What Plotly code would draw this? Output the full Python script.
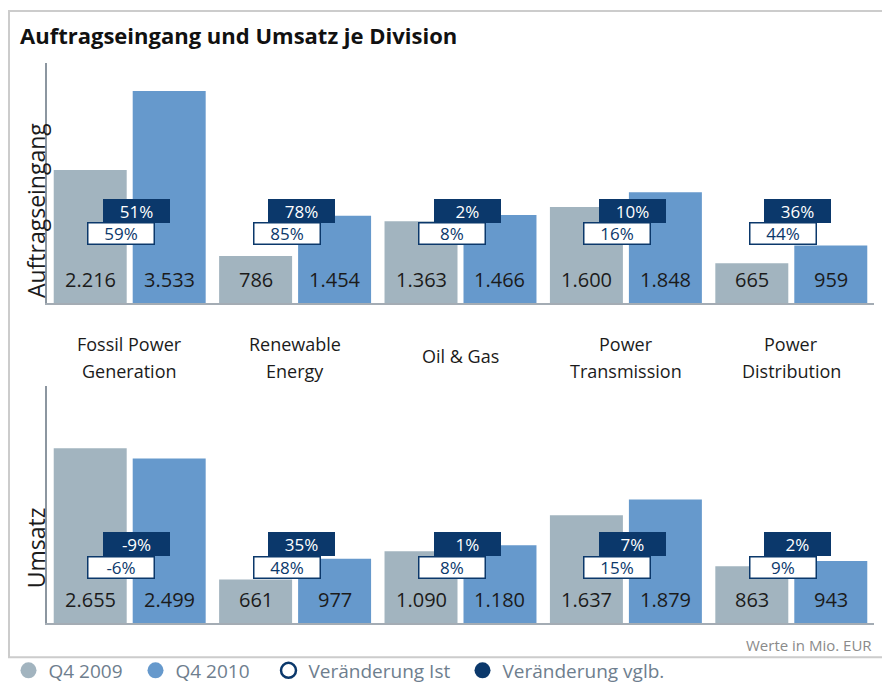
import plotly.graph_objects as go
from plotly.subplots import make_subplots

# ---------------- data ----------------
categories = ["Fossil Power<br>Generation", "Renewable<br>Energy", "Oil & Gas",
              "Power<br>Transmission", "Power<br>Distribution"]
auftrag_q4_2009 = [2216, 786, 1363, 1600, 665]
auftrag_q4_2010 = [3533, 1454, 1466, 1848, 959]
auftrag_chg_ist = ["59%", "85%", "8%", "16%", "44%"]
auftrag_chg_vglb = ["51%", "78%", "2%", "10%", "36%"]

umsatz_q4_2009 = [2655, 661, 1090, 1637, 863]
umsatz_q4_2010 = [2499, 977, 1180, 1879, 943]
umsatz_chg_ist = ["-6%", "48%", "8%", "15%", "9%"]
umsatz_chg_vglb = ["-9%", "35%", "1%", "7%", "2%"]

series_names = ["Q4 2009", "Q4 2010", "Veränderung Ist", "Veränderung vglb."]
panel_titles = ["Auftragseingang", "Umsatz"]
title_text = "Auftragseingang und Umsatz je Division"
note_text = "Werte in Mio. EUR"

# ---------------- styling ----------------
OFF = 8                      # page body margin of the html document
W, H = 890 - OFF, 684
PLOT_LEFT, PLOT_RIGHT = 47, 874          # screen px
TOP_TOP, TOP_BASE = 63, 303
BOT_TOP, BOT_BASE = 386, 622.7
L = PLOT_LEFT - OFF
R = W - (PLOT_RIGHT - OFF)
T = TOP_TOP - OFF
B = H - (BOT_BASE - OFF)
PW, PH = W - L - R, H - T - B
FONT = "Open Sans"
C09 = "#a2b4bf"
C10 = "#6699cc"
NAVY = "#0b386b"
AXIS = "#a4acb4"
LEG_TXT = "#6e7e8e"


def px_x(sx):
    return (sx - OFF - L) / PW


def px_y(sy):
    return (H - B - (sy - OFF)) / PH


def cx(sx):
    return (sx - OFF) / W


def cy(sy):
    return 1 - (sy - OFF) / H


def fmt(v):
    return f"{v:,}".replace(",", ".")


fig = make_subplots(rows=2, cols=1, vertical_spacing=0.0)
fig.update_layout(
    yaxis=dict(domain=[px_y(TOP_BASE), 1.0]),
    yaxis2=dict(domain=[0.0, px_y(BOT_TOP)]),
)

panels = [
    (auftrag_q4_2009, auftrag_q4_2010, auftrag_chg_ist, auftrag_chg_vglb, 1, TOP_BASE, 210.5, 233.7),
    (umsatz_q4_2009, umsatz_q4_2010, umsatz_chg_ist, umsatz_chg_vglb, 2, BOT_BASE, 543.3, 567.0),
]

annotations = []
group_w = PW / len(categories)
bargap = 0.045
bargroupgap = 0.076
bar_off = group_w * (1 - bargap) / 4

for (v09, v10, ist, vglb, row, base_px, dark_y, white_y) in panels:
    fig.add_trace(go.Bar(x=categories, y=v09, marker=dict(color=C09, line=dict(width=0)),
                         showlegend=False, hoverinfo="x+y", name=series_names[0]), row=row, col=1)
    fig.add_trace(go.Bar(x=categories, y=v10, marker=dict(color=C10, line=dict(width=0)),
                         showlegend=False, hoverinfo="x+y", name=series_names[1]), row=row, col=1)
    xref = "x" if row == 1 else "x2"
    yref = "y" if row == 1 else "y2"
    for i, c in enumerate(categories):
        for val, sh in ((v09[i], -bar_off), (v10[i], bar_off)):
            annotations.append(dict(x=c, y=0, xref=xref, yref=yref, text=fmt(val),
                                    showarrow=False, xshift=sh, yshift=23.5,
                                    xanchor="center", yanchor="middle",
                                    font=dict(family=FONT, size=20, color="#1b1b1b")))
        annotations.append(dict(x=c, y=0, xref=xref, yref=yref, text=vglb[i],
                                showarrow=False, xshift=6.5, yshift=base_px - dark_y,
                                xanchor="center", yanchor="middle",
                                width=67, height=24, bgcolor=NAVY, borderpad=0,
                                borderwidth=0,
                                font=dict(family=FONT, size=17, color="white")))
        annotations.append(dict(x=c, y=0, xref=xref, yref=yref, text=ist[i],
                                showarrow=False, xshift=-8.5, yshift=base_px - white_y,
                                xanchor="center", yanchor="middle",
                                width=65, height=20, bgcolor="white", bordercolor=NAVY,
                                borderwidth=1.5, borderpad=0,
                                font=dict(family=FONT, size=17, color=NAVY)))

# category labels between panels
for c in categories:
    lines = c.split("<br>")
    if len(lines) == 1:
        shifts = [TOP_BASE - 356]
    else:
        shifts = [TOP_BASE - 344, TOP_BASE - 371]
    for ln, s in zip(lines, shifts):
        annotations.append(dict(x=c, y=0, xref="x", yref="y", text=ln, showarrow=False,
                                yshift=s, xanchor="center", yanchor="middle",
                                font=dict(family=FONT, size=18, color="#1b1b1b")))

# panel titles (rotated)
annotations.append(dict(x=px_x(36), y=px_y(211), xref="paper", yref="paper",
                        text=panel_titles[0], textangle=-90, showarrow=False,
                        xanchor="center", yanchor="middle",
                        font=dict(family=FONT, size=23, color="#1b1b1b")))
annotations.append(dict(x=px_x(36), y=px_y(548), xref="paper", yref="paper",
                        text=panel_titles[1], textangle=-90, showarrow=False,
                        xanchor="center", yanchor="middle",
                        font=dict(family=FONT, size=23, color="#1b1b1b")))
# note
annotations.append(dict(x=px_x(874), y=px_y(645), xref="paper", yref="paper",
                        text=note_text, showarrow=False, xanchor="right", yanchor="middle",
                        font=dict(family=FONT, size=15, color="#8a8a8a")))

# legend proxies (circles) each in own legend
leg_styles = [
    dict(symbol="circle", size=16, color=C09),
    dict(symbol="circle", size=16, color=C10),
    dict(symbol="circle-open", size=15, color=NAVY, line=dict(width=2.5, color=NAVY)),
    dict(symbol="circle", size=16, color=NAVY),
]
leg_centers = [28.5, 155.5, 288.5, 482.5]
leg_names = ["legend", "legend2", "legend3", "legend4"]
for name, st, lg in zip(series_names, leg_styles, leg_names):
    fig.add_trace(go.Scatter(x=[None], y=[None], mode="markers", name=name,
                             marker=st, legend=lg, showlegend=True), row=1, col=1)

legend_common = dict(orientation="h", yanchor="middle", xanchor="left",
                     xref="container", yref="container",
                     bgcolor="rgba(0,0,0,0)", borderwidth=0,
                     font=dict(family=FONT, size=19, color=LEG_TXT),
                     itemclick=False, itemdoubleclick=False)
leg_layout = {}
for lg, c in zip(leg_names, leg_centers):
    leg_layout[lg] = dict(legend_common, x=cx(c - 20), y=cy(670.5))

fig.update_layout(
    width=W, height=H,
    margin=dict(l=L, r=R, t=T, b=B, autoexpand=False),
    paper_bgcolor="white", plot_bgcolor="white",
    barmode="group", bargap=bargap, bargroupgap=bargroupgap,
    title=dict(text="<b>" + title_text + "</b>", x=cx(20), y=cy(36),
               xanchor="left", yanchor="middle", xref="container", yref="container",
               font=dict(family=FONT, size=22, color="#111111")),
    annotations=annotations,
    shapes=[dict(type="rect", xref="paper", yref="paper",
                 x0=px_x(9), x1=px_x(900), y0=px_y(657), y1=px_y(11),
                 line=dict(color="#cccccc", width=2), fillcolor="rgba(0,0,0,0)",
                 layer="below")],
    hovermode="closest",
    **leg_layout,
)

for ax in ("xaxis", "xaxis2"):
    fig.layout[ax].update(showticklabels=False, ticks="", showgrid=False, zeroline=False,
                          showline=True, linecolor=AXIS, linewidth=2, fixedrange=True)
fig.layout.yaxis.update(range=[0, 4000], showticklabels=False, ticks="", showgrid=False,
                        zeroline=False, showline=True, linecolor="#8c96a0", linewidth=1.5,
                        fixedrange=True)
fig.layout.yaxis2.update(range=[0, 3600], showticklabels=False, ticks="", showgrid=False,
                         zeroline=False, showline=True, linecolor="#8c96a0", linewidth=1.5,
                         fixedrange=True)

fig.write_html("out.html")
